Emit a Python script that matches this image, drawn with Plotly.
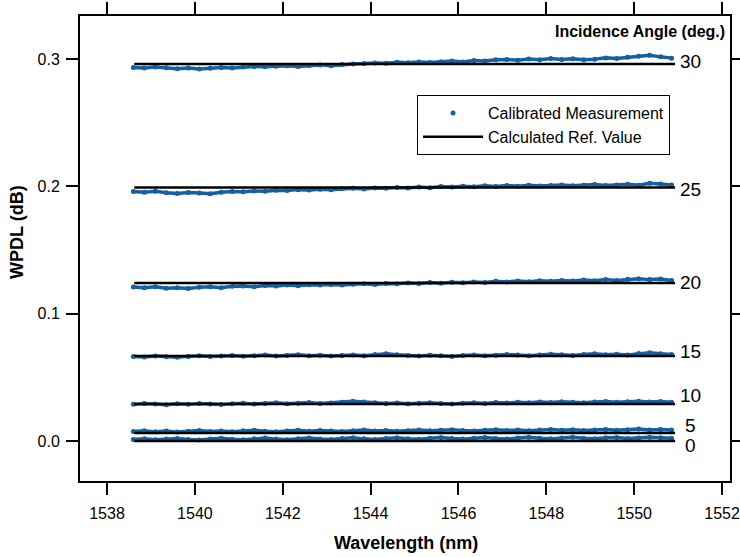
import plotly.graph_objects as go

# ---------------- data ----------------
wavelength = [1538.60, 1538.85, 1539.10, 1539.35, 1539.60, 1539.85, 1540.10, 1540.35, 1540.60, 1540.85,
              1541.10, 1541.35, 1541.60, 1541.85, 1542.10, 1542.35, 1542.60, 1542.85, 1543.10, 1543.35,
              1543.60, 1543.85, 1544.10, 1544.35, 1544.60, 1544.85, 1545.10, 1545.35, 1545.60, 1545.85,
              1546.10, 1546.35, 1546.60, 1546.85, 1547.10, 1547.35, 1547.60, 1547.85, 1548.10, 1548.35,
              1548.60, 1548.85, 1549.10, 1549.35, 1549.60, 1549.85, 1550.10, 1550.35, 1550.60, 1550.85]

angles = [0, 5, 10, 15, 20, 25, 30]
angle_labels = ["0", "5", "10", "15", "20", "25", "30"]

meas_0 = [0.0012, 0.0018, 0.0010, 0.0015, 0.0020, 0.0013, 0.0008, 0.0016, 0.0022, 0.0014,
          0.0010, 0.0017, 0.0023, 0.0015, 0.0011, 0.0018, 0.0024, 0.0016, 0.0012, 0.0019,
          0.0025, 0.0017, 0.0013, 0.0020, 0.0026, 0.0018, 0.0014, 0.0021, 0.0027, 0.0019,
          0.0015, 0.0022, 0.0028, 0.0020, 0.0016, 0.0023, 0.0029, 0.0021, 0.0017, 0.0024,
          0.0030, 0.0022, 0.0018, 0.0025, 0.0028, 0.0020, 0.0024, 0.0030, 0.0026, 0.0021]
meas_5 = [0.0075, 0.0080, 0.0072, 0.0078, 0.0070, 0.0076, 0.0082, 0.0074, 0.0078, 0.0072,
          0.0080, 0.0085, 0.0077, 0.0073, 0.0079, 0.0084, 0.0076, 0.0082, 0.0078, 0.0074,
          0.0080, 0.0086, 0.0079, 0.0083, 0.0077, 0.0081, 0.0086, 0.0080, 0.0084, 0.0088,
          0.0082, 0.0078, 0.0084, 0.0089, 0.0083, 0.0087, 0.0081, 0.0086, 0.0090, 0.0084,
          0.0088, 0.0082, 0.0087, 0.0091, 0.0085, 0.0089, 0.0094, 0.0087, 0.0091, 0.0086]
meas_10 = [0.0288, 0.0295, 0.0290, 0.0285, 0.0292, 0.0288, 0.0295, 0.0290, 0.0286, 0.0293,
           0.0297, 0.0290, 0.0295, 0.0300, 0.0293, 0.0297, 0.0302, 0.0295, 0.0299, 0.0305,
           0.0312, 0.0306, 0.0300, 0.0294, 0.0298, 0.0292, 0.0297, 0.0300, 0.0294, 0.0290,
           0.0296, 0.0300, 0.0295, 0.0302, 0.0298, 0.0304, 0.0300, 0.0306, 0.0302, 0.0308,
           0.0304, 0.0300, 0.0306, 0.0310, 0.0304, 0.0308, 0.0312, 0.0306, 0.0310, 0.0305]
meas_15 = [0.0665, 0.0660, 0.0668, 0.0662, 0.0658, 0.0665, 0.0670, 0.0664, 0.0668, 0.0672,
           0.0666, 0.0670, 0.0675, 0.0668, 0.0672, 0.0678, 0.0670, 0.0674, 0.0668, 0.0672,
           0.0676, 0.0670, 0.0680, 0.0685, 0.0678, 0.0672, 0.0668, 0.0674, 0.0670, 0.0665,
           0.0672, 0.0676, 0.0670, 0.0674, 0.0680, 0.0675, 0.0670, 0.0676, 0.0682, 0.0678,
           0.0672, 0.0680, 0.0685, 0.0678, 0.0682, 0.0676, 0.0688, 0.0694, 0.0686, 0.0680]
meas_20 = [0.1210, 0.1205, 0.1212, 0.1200, 0.1205, 0.1198, 0.1208, 0.1212, 0.1205, 0.1215,
           0.1218, 0.1212, 0.1222, 0.1218, 0.1225, 0.1220, 0.1228, 0.1225, 0.1230, 0.1226,
           0.1232, 0.1236, 0.1230, 0.1238, 0.1235, 0.1242, 0.1238, 0.1245, 0.1240, 0.1248,
           0.1244, 0.1250, 0.1246, 0.1255, 0.1250, 0.1258, 0.1252, 0.1260, 0.1255, 0.1262,
           0.1258, 0.1265, 0.1260, 0.1268, 0.1262, 0.1270, 0.1275, 0.1268, 0.1272, 0.1262]
meas_25 = [0.1960, 0.1955, 0.1962, 0.1950, 0.1945, 0.1952, 0.1948, 0.1942, 0.1955, 0.1960,
           0.1958, 0.1965, 0.1962, 0.1970, 0.1968, 0.1975, 0.1972, 0.1978, 0.1975, 0.1982,
           0.1985, 0.1980, 0.1988, 0.1985, 0.1992, 0.1988, 0.1995, 0.1990, 0.2000, 0.1995,
           0.2002, 0.1998, 0.2005, 0.2000, 0.2008, 0.2002, 0.2010, 0.2004, 0.2008, 0.2012,
           0.2005, 0.2010, 0.2015, 0.2008, 0.2012, 0.2018, 0.2010, 0.2025, 0.2020, 0.2012]
meas_30 = [0.2935, 0.2930, 0.2938, 0.2932, 0.2925, 0.2930, 0.2922, 0.2928, 0.2935, 0.2930,
           0.2938, 0.2942, 0.2940, 0.2945, 0.2948, 0.2943, 0.2950, 0.2955, 0.2948, 0.2958,
           0.2962, 0.2965, 0.2970, 0.2968, 0.2975, 0.2972, 0.2978, 0.2974, 0.2980, 0.2985,
           0.2978, 0.2990, 0.2985, 0.2995, 0.2998, 0.2992, 0.3002, 0.2996, 0.3005, 0.2998,
           0.3003, 0.2995, 0.3000, 0.3010, 0.3005, 0.3015, 0.3022, 0.3030, 0.3018, 0.3008]
measurements = [meas_0, meas_5, meas_10, meas_15, meas_20, meas_25, meas_30]

ref_values = [0.0, 0.0063, 0.0291, 0.0668, 0.1241, 0.1991, 0.2962]
ref_span = [1538.62, 1550.93]

x_ticks = [1538, 1540, 1542, 1544, 1546, 1548, 1550, 1552]
y_ticks = [0.0, 0.1, 0.2, 0.3]

# ---------------- style ----------------
BLUE = "#1560a0"
FONT = "Liberation Sans, Arial, Helvetica, sans-serif"
label_yshift = [-4, 8, 8, 5, 1, -2, 2]

fig = go.Figure()

for i, (ang, ys) in enumerate(zip(angles, measurements)):
    fig.add_trace(go.Scatter(
        x=wavelength, y=ys, mode="lines", line=dict(color=BLUE, width=3.5),
        showlegend=False, hoverinfo="skip"))
    fig.add_trace(go.Scatter(
        x=wavelength, y=ys, mode="markers", marker=dict(color=BLUE, size=5),
        name="Calibrated Measurement", legendgroup="meas", showlegend=(i == 0)))

for i, (ang, rv) in enumerate(zip(angles, ref_values)):
    fig.add_trace(go.Scatter(
        x=ref_span, y=[rv, rv], mode="lines", line=dict(color="black", width=2.5),
        name="Calculated Ref. Value", legendgroup="ref", showlegend=(i == 0)))

for lab, rv, ys in zip(angle_labels, ref_values, label_yshift):
    fig.add_annotation(x=1551.28, y=rv, xref="x", yref="y", text=lab, showarrow=False,
                       xanchor="center", yanchor="middle", yshift=ys,
                       font=dict(size=19, color="black", family=FONT))

fig.add_annotation(x=0.995, y=0.9656, xref="paper", yref="paper",
                   text="<b>Incidence Angle (deg.)</b>", showarrow=False,
                   xanchor="right", yanchor="middle",
                   font=dict(size=16, color="black", family=FONT))
fig.add_annotation(x=0.5015, y=-0.1333, xref="paper", yref="paper",
                   text="<b>Wavelength (nm)</b>", showarrow=False,
                   xanchor="center", yanchor="middle",
                   font=dict(size=18, color="black", family=FONT))
fig.add_annotation(x=-0.0969, y=0.5355, xref="paper", yref="paper",
                   text="<b>WPDL (dB)</b>", showarrow=False, textangle=-90,
                   xanchor="center", yanchor="middle",
                   font=dict(size=18, color="black", family=FONT))

axis_common = dict(showline=True, linecolor="black", linewidth=2, mirror="ticks",
                   ticks="outside", ticklen=12, tickwidth=1.5, tickcolor="black",
                   showgrid=False, zeroline=False, automargin=False,
                   tickfont=dict(size=16, color="black", family=FONT))

fig.update_xaxes(range=[1537.385, 1552.18], tickvals=x_ticks,
                 ticktext=[str(v) for v in x_ticks], ticklabelstandoff=5, **axis_common)
fig.update_yaxes(range=[-0.0314, 0.3339], tickvals=y_ticks,
                 ticktext=[f"{v:.1f}" for v in y_ticks], ticklabelstandoff=3, **axis_common)

fig.update_layout(
    width=740, height=557, autosize=False,
    margin=dict(l=80, r=10, t=16, b=76),
    paper_bgcolor="white", plot_bgcolor="white",
    font=dict(family=FONT, color="black"),
    legend=dict(x=0.5185, y=0.830, xanchor="left", yanchor="top",
                bordercolor="black", borderwidth=1, bgcolor="white",
                font=dict(size=16, color="black", family=FONT),
                itemwidth=60, tracegroupgap=0),
)

fig.write_html("out.html",
               config={"responsive": False, "displayModeBar": False},
               post_script="document.body.style.margin='0px';document.body.style.overflow='hidden';")
